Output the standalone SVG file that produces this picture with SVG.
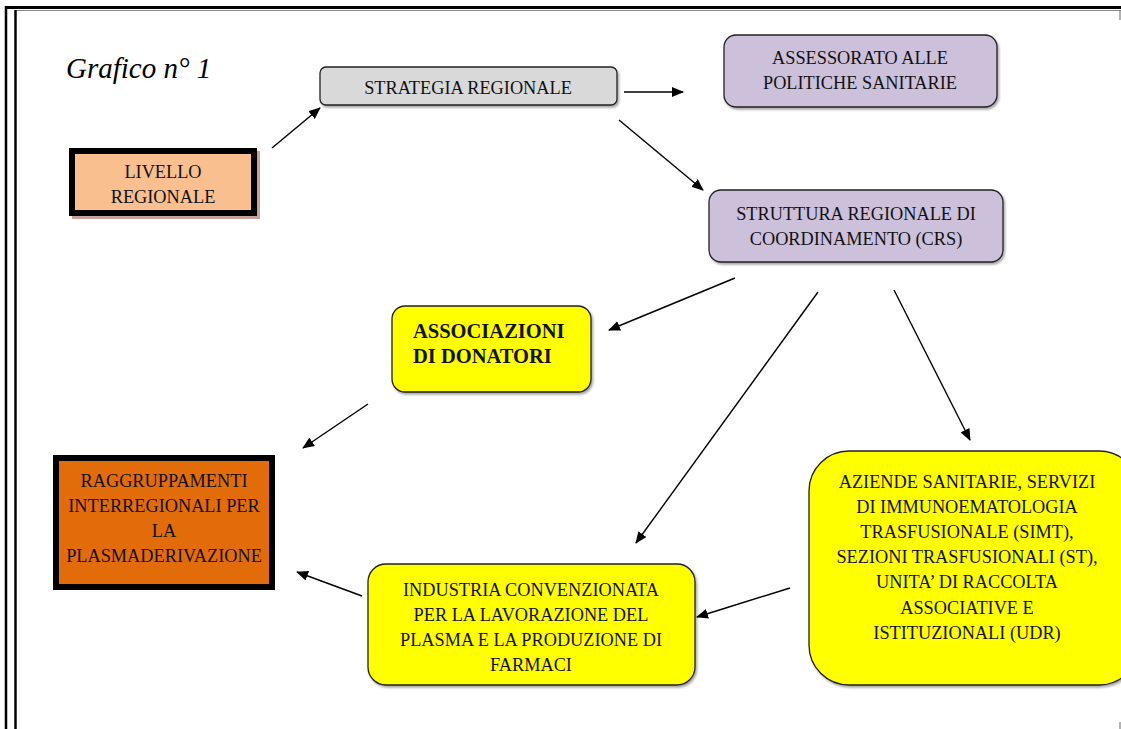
<svg xmlns="http://www.w3.org/2000/svg" width="1121" height="729" viewBox="0 0 1121 729">
<defs>
<marker id="ah" viewBox="0 0 12 10" refX="11" refY="5" markerWidth="12" markerHeight="10" markerUnits="userSpaceOnUse" orient="auto">
<path d="M0,0 L12,5 L0,10 Z" fill="#000"/>
</marker>
<filter id="sh" x="-5%" y="-5%" width="115%" height="120%">
<feDropShadow dx="1.5" dy="2" stdDeviation="1" flood-color="#000" flood-opacity="0.35"/>
</filter>
</defs>
<style>
.t{font-family:"Liberation Serif","Times New Roman",serif;font-size:18.3px;fill:#111;text-anchor:middle}
.b{font-family:"Liberation Serif","Times New Roman",serif;font-size:20.5px;font-weight:bold;fill:#111}
.c line{stroke:#000;stroke-width:1.4;marker-end:url(#ah)}
.rr{stroke:#222;stroke-width:1.3}
</style>
<rect width="1121" height="729" fill="#fff"/>
<g id="frame">
<line x1="5" y1="7.5" x2="1121" y2="7.5" stroke="#000" stroke-width="3"/>
<line x1="16" y1="10.5" x2="1121" y2="10.5" stroke="#888" stroke-width="1"/>
<line x1="6" y1="6" x2="6" y2="729" stroke="#000" stroke-width="2.5"/>
<line x1="15.5" y1="10" x2="15.5" y2="729" stroke="#000" stroke-width="2.5"/>
<line x1="1120" y1="10" x2="1120" y2="20" stroke="#666" stroke-width="1"/>
<line x1="1120" y1="722" x2="1120" y2="729" stroke="#666" stroke-width="1"/>
</g>
<text x="66" y="78" font-family="Liberation Serif, serif" font-style="italic" font-size="29" fill="#000">Grafico n° 1</text>
<g id="livello">
<rect x="72" y="151" width="188" height="68" fill="#c8a0a0"/>
<rect x="72" y="151" width="182" height="62" fill="#F9BF8F" stroke="#000" stroke-width="6"/>
<text class="t" x="163" y="178">LIVELLO</text>
<text class="t" x="163" y="203">REGIONALE</text>
</g>
<g id="strategia">
<rect class="rr" x="320" y="67" width="297" height="38" rx="6" fill="#D9D9D9" filter="url(#sh)"/>
<text class="t" x="468" y="94">STRATEGIA REGIONALE</text>
</g>
<g id="assessorato">
<rect class="rr" x="724" y="35" width="273" height="72" rx="12" fill="#CCC0DA" filter="url(#sh)"/>
<text class="t" x="860" y="64">ASSESSORATO ALLE</text>
<text class="t" x="860" y="89">POLITICHE SANITARIE</text>
</g>
<g id="struttura">
<rect class="rr" x="709" y="190" width="294" height="72" rx="12" fill="#CCC0DA" filter="url(#sh)"/>
<text class="t" x="856" y="220">STRUTTURA REGIONALE DI</text>
<text class="t" x="856" y="245">COORDINAMENTO (CRS)</text>
</g>
<g id="associazioni">
<rect class="rr" x="392" y="306" width="199" height="86" rx="13" fill="#FFFF00" filter="url(#sh)"/>
<text class="b" x="413" y="338">ASSOCIAZIONI</text>
<text class="b" x="413" y="363">DI DONATORI</text>
</g>
<g id="raggruppamenti">
<rect x="56" y="458" width="216" height="129" fill="#E26B0A" stroke="#000" stroke-width="6"/>
<text class="t" x="164" y="487">RAGGRUPPAMENTI</text>
<text class="t" x="164" y="512">INTERREGIONALI PER</text>
<text class="t" x="164" y="537">LA</text>
<text class="t" x="164" y="562">PLASMADERIVAZIONE</text>
</g>
<g id="industria">
<rect class="rr" x="368" y="564" width="327" height="121" rx="18" fill="#FFFF00" filter="url(#sh)"/>
<text class="t" x="531" y="596">INDUSTRIA CONVENZIONATA</text>
<text class="t" x="531" y="621">PER LA LAVORAZIONE DEL</text>
<text class="t" x="531" y="646">PLASMA E LA PRODUZIONE DI</text>
<text class="t" x="531" y="671">FARMACI</text>
</g>
<g id="aziende">
<rect class="rr" x="809" y="451" width="330" height="234" rx="40" fill="#FFFF00" filter="url(#sh)"/>
<text class="t" x="967" y="488">AZIENDE SANITARIE, SERVIZI</text>
<text class="t" x="967" y="513">DI IMMUNOEMATOLOGIA</text>
<text class="t" x="967" y="538">TRASFUSIONALE (SIMT),</text>
<text class="t" x="967" y="563">SEZIONI TRASFUSIONALI (ST),</text>
<text class="t" x="967" y="588">UNITA’ DI RACCOLTA</text>
<text class="t" x="967" y="614">ASSOCIATIVE E</text>
<text class="t" x="967" y="639">ISTITUZIONALI (UDR)</text>
</g>
<g id="connectors" class="c">
<line x1="272" y1="148" x2="320" y2="108"/>
<line x1="624" y1="92" x2="683" y2="92"/>
<line x1="619" y1="120" x2="703" y2="190"/>
<line x1="735" y1="278" x2="609" y2="330"/>
<line x1="818" y1="292" x2="636" y2="543"/>
<line x1="894" y1="290" x2="970" y2="440"/>
<line x1="368" y1="404" x2="303" y2="448"/>
<line x1="362" y1="596" x2="297" y2="572"/>
<line x1="790" y1="588" x2="697" y2="617"/>
</g>
</svg>
